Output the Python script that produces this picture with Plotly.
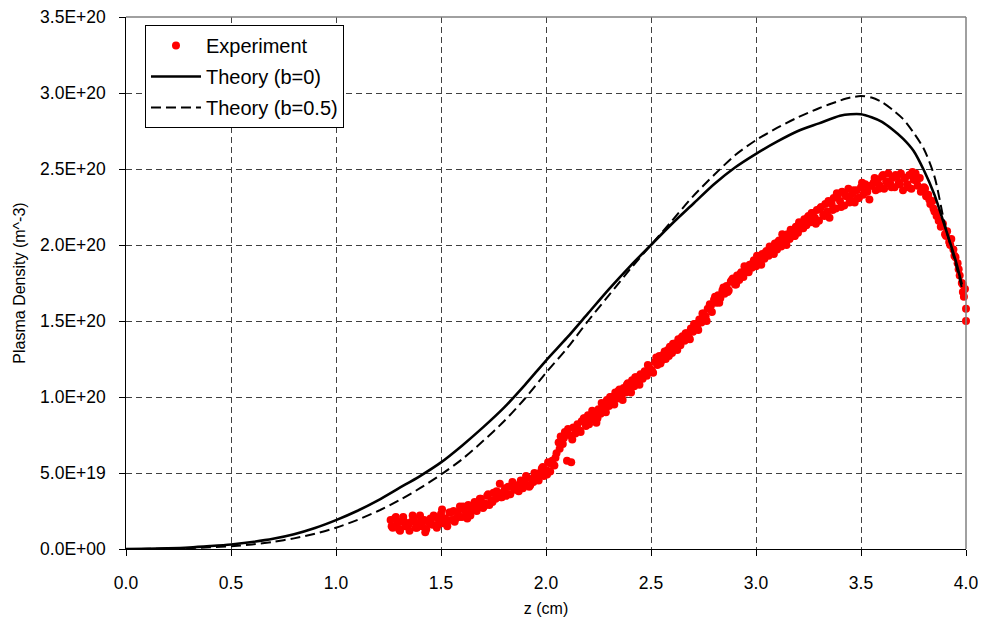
import plotly.graph_objects as go

# ---------------- data (densities in units of 1e20 m^-3) ----------------
theory_z = [0.0, 0.1, 0.2, 0.3, 0.4, 0.5, 0.6, 0.7, 0.8, 0.9, 1.0, 1.1, 1.2, 1.3, 1.4,
            1.5, 1.6, 1.7, 1.8, 1.9, 2.0, 2.1, 2.2, 2.3, 2.4, 2.5, 2.6, 2.7, 2.8, 2.9,
            3.0, 3.1, 3.2, 3.3, 3.4, 3.45, 3.5, 3.55, 3.6, 3.65, 3.7, 3.75, 3.8, 3.85,
            3.9, 3.95, 3.98]
theory_b0 = [0.0, 0.002, 0.005, 0.010, 0.019, 0.030, 0.046, 0.067, 0.097, 0.138, 0.19,
             0.25, 0.32, 0.40, 0.48, 0.57, 0.68, 0.80, 0.93, 1.08, 1.24, 1.39, 1.55,
             1.71, 1.86, 2.00, 2.14, 2.27, 2.40, 2.51, 2.60, 2.68, 2.75, 2.80, 2.85,
             2.86, 2.86, 2.84, 2.81, 2.76, 2.70, 2.62, 2.49, 2.33, 2.12, 1.90, 1.74]
theory_b05 = [0.0, 0.001, 0.003, 0.006, 0.011, 0.018, 0.030, 0.047, 0.070, 0.10, 0.14,
              0.19, 0.25, 0.32, 0.40, 0.49, 0.59, 0.71, 0.84, 0.99, 1.16, 1.32, 1.50,
              1.67, 1.84, 2.00, 2.16, 2.32, 2.46, 2.59, 2.69, 2.77, 2.84, 2.90, 2.95,
              2.97, 2.98, 2.97, 2.94, 2.89, 2.83, 2.74, 2.63, 2.45, 2.13, 1.88, 1.72]

exp_z = [
    1.26, 1.27, 1.28, 1.29, 1.30, 1.31, 1.32, 1.33, 1.34, 1.35,
    1.36, 1.37, 1.38, 1.39, 1.40, 1.41, 1.42, 1.43, 1.44, 1.45,
    1.46, 1.47, 1.48, 1.49, 1.50, 1.51, 1.52, 1.53, 1.54, 1.55,
    1.56, 1.57, 1.58, 1.59, 1.60, 1.61, 1.62, 1.63, 1.64, 1.65,
    1.66, 1.67, 1.68, 1.69, 1.70, 1.71, 1.72, 1.73, 1.74, 1.75,
    1.76, 1.77, 1.78, 1.79, 1.80, 1.81, 1.82, 1.83, 1.84, 1.85,
    1.86, 1.87, 1.88, 1.89, 1.90, 1.91, 1.92, 1.93, 1.94, 1.95,
    1.96, 1.97, 1.98, 1.99, 2.00, 2.01, 2.02, 2.03, 2.04, 2.05,
    2.06, 2.07, 2.08, 2.09, 2.10, 2.11, 2.12, 2.13, 2.14, 2.15,
    2.16, 2.17, 2.18, 2.19, 2.20, 2.21, 2.22, 2.23, 2.24, 2.25,
    2.26, 2.27, 2.28, 2.29, 2.30, 2.31, 2.32, 2.33, 2.34, 2.35,
    2.36, 2.37, 2.38, 2.39, 2.40, 2.41, 2.42, 2.43, 2.44, 2.45,
    2.46, 2.47, 2.48, 2.49, 2.50, 2.51, 2.52, 2.53, 2.54, 2.55,
    2.56, 2.57, 2.58, 2.59, 2.60, 2.61, 2.62, 2.63, 2.64, 2.65,
    2.66, 2.67, 2.68, 2.69, 2.70, 2.71, 2.72, 2.73, 2.74, 2.75,
    2.76, 2.77, 2.78, 2.79, 2.80, 2.81, 2.82, 2.83, 2.84, 2.85,
    2.86, 2.87, 2.88, 2.89, 2.90, 2.91, 2.92, 2.93, 2.94, 2.95,
    2.96, 2.97, 2.98, 2.99, 3.00, 3.01, 3.02, 3.03, 3.04, 3.05,
    3.06, 3.07, 3.08, 3.09, 3.10, 3.11, 3.12, 3.13, 3.14, 3.15,
    3.16, 3.17, 3.18, 3.19, 3.20, 3.21, 3.22, 3.23, 3.24, 3.25,
    3.26, 3.27, 3.28, 3.29, 3.30, 3.31, 3.32, 3.33, 3.34, 3.35,
    3.36, 3.37, 3.38, 3.39, 3.40, 3.41, 3.42, 3.43, 3.44, 3.45,
    3.46, 3.47, 3.48, 3.49, 3.50, 3.51, 3.52, 3.53, 3.54, 3.55,
    3.56, 3.57, 3.58, 3.59, 3.60, 3.61, 3.62, 3.63, 3.64, 3.65,
    3.66, 3.67, 3.68, 3.69, 3.70, 3.71, 3.72, 3.73, 3.74, 3.75,
    3.76, 3.77, 3.78, 3.79, 3.80, 3.81, 3.82, 3.83, 3.84, 3.85,
    3.86, 3.87, 3.88, 3.89, 3.90, 3.91, 3.92, 3.93, 3.94, 3.95,
    3.96, 3.97, 3.98, 3.99, 4.00, 3.985, 3.995, 4.00,
]
exp_n = [
    0.19, 0.14, 0.20, 0.16, 0.13, 0.18, 0.21, 0.15, 0.17, 0.12,
    0.18, 0.20, 0.14, 0.17, 0.22, 0.15, 0.19, 0.13, 0.18, 0.20,
    0.16, 0.21, 0.14, 0.19, 0.23, 0.17, 0.20, 0.15, 0.24, 0.19,
    0.25, 0.20, 0.24, 0.28, 0.21, 0.26, 0.23, 0.29, 0.22, 0.27,
    0.31, 0.25, 0.29, 0.33, 0.27, 0.30, 0.35, 0.29, 0.32, 0.37,
    0.33, 0.37, 0.43, 0.34, 0.38, 0.35, 0.41, 0.36, 0.44, 0.39,
    0.42, 0.38, 0.45, 0.40, 0.43, 0.47, 0.41, 0.46, 0.44, 0.49,
    0.46, 0.50, 0.53, 0.48, 0.52, 0.57, 0.51, 0.58, 0.55, 0.63,
    0.70, 0.74, 0.69, 0.77, 0.58, 0.75, 0.57, 0.80, 0.76, 0.82,
    0.78, 0.84, 0.86, 0.81, 0.88, 0.85, 0.91, 0.87, 0.83, 0.92,
    0.89, 0.95, 0.93, 0.98, 0.94, 1.00, 0.97, 1.03, 0.99, 1.05,
    1.01, 1.06, 1.03, 1.09, 1.05, 1.11, 1.07, 1.13, 1.10, 1.15,
    1.12, 1.17, 1.14, 1.20, 1.18, 1.16, 1.23, 1.21, 1.27, 1.24,
    1.28, 1.25, 1.31, 1.33, 1.29, 1.35, 1.32, 1.38, 1.34, 1.40,
    1.37, 1.42, 1.39, 1.45, 1.43, 1.48, 1.46, 1.51, 1.49, 1.55,
    1.53, 1.58, 1.61, 1.56, 1.64, 1.62, 1.67, 1.65, 1.70, 1.68,
    1.73, 1.70, 1.76, 1.78, 1.74, 1.80, 1.77, 1.82, 1.79, 1.85,
    1.83, 1.87, 1.85, 1.90, 1.86, 1.92, 1.89, 1.94, 1.91, 1.96,
    1.93, 1.98, 1.95, 2.01, 1.97, 2.03, 1.99, 2.05, 2.01, 2.07,
    2.04, 2.09, 2.06, 2.12, 2.08, 2.14, 2.11, 2.17, 2.13, 2.19,
    2.15, 2.21, 2.18, 2.23, 2.16, 2.25, 2.20, 2.27, 2.22, 2.18,
    2.27, 2.31, 2.24, 2.33, 2.29, 2.35, 2.26, 2.32, 2.37, 2.30,
    2.34, 2.28, 2.36, 2.31, 2.38, 2.33, 2.40, 2.35, 2.30, 2.39,
    2.41, 2.36, 2.43, 2.39, 2.45, 2.37, 2.42, 2.47, 2.40, 2.44,
    2.38, 2.45, 2.41, 2.47, 2.36, 2.44, 2.40, 2.46, 2.37, 2.43,
    2.47, 2.39, 2.44, 2.36, 2.38, 2.32, 2.33, 2.27, 2.29, 2.22,
    2.19, 2.16, 2.12, 2.14, 2.07, 2.09, 2.02, 2.04, 1.97, 1.92,
    1.88, 1.80, 1.75, 1.66, 1.58, 1.69, 1.71, 1.50,
]
# second, interleaved set of experimental samples
exp2_z = [
    1.265, 1.285, 1.305, 1.325, 1.345, 1.365, 1.385, 1.405, 1.425, 1.445,
    1.465, 1.485, 1.505, 1.525, 1.545, 1.565, 1.585, 1.605, 1.625, 1.645,
    1.665, 1.685, 1.705, 1.725, 1.745, 1.765, 1.785, 1.805, 1.825, 1.845,
    1.865, 1.885, 1.905, 1.925, 1.945, 1.965, 1.985, 2.005, 2.025, 2.045,
    2.065, 2.085, 2.105, 2.125, 2.145, 2.165, 2.185, 2.205, 2.225, 2.245,
    2.265, 2.285, 2.305, 2.325, 2.345, 2.365, 2.385, 2.405, 2.425, 2.445,
    2.465, 2.485, 2.505, 2.525, 2.545, 2.565, 2.585, 2.605, 2.625, 2.645,
    2.665, 2.685, 2.705, 2.725, 2.745, 2.765, 2.785, 2.805, 2.825, 2.845,
    2.865, 2.885, 2.905, 2.925, 2.945, 2.965, 2.985, 3.005, 3.025, 3.045,
    3.065, 3.085, 3.105, 3.125, 3.145, 3.165, 3.185, 3.205, 3.225, 3.245,
    3.265, 3.285, 3.305, 3.325, 3.345, 3.365, 3.385, 3.405, 3.425, 3.445,
    3.465, 3.485, 3.505, 3.525, 3.545, 3.565, 3.585, 3.605, 3.625, 3.645,
    3.665, 3.685, 3.705, 3.725, 3.745, 3.765, 3.785, 3.805, 3.825, 3.845,
    3.865, 3.885, 3.905, 3.925, 3.945, 3.965, 3.985,
]
exp2_n = [
    0.15, 0.21, 0.12, 0.18, 0.16, 0.22, 0.14, 0.19, 0.11, 0.17,
    0.22, 0.16, 0.26, 0.19, 0.24, 0.18, 0.21, 0.28, 0.20, 0.25,
    0.26, 0.33, 0.28, 0.36, 0.31, 0.38, 0.34, 0.40, 0.36, 0.42,
    0.39, 0.44, 0.48, 0.42, 0.50, 0.45, 0.54, 0.49, 0.56, 0.60,
    0.66, 0.73, 0.79, 0.72, 0.80, 0.77, 0.86, 0.82, 0.90, 0.86,
    0.96, 0.90, 1.00, 0.95, 1.04, 0.98, 1.08, 1.03, 1.13, 1.08,
    1.15, 1.21, 1.17, 1.26, 1.22, 1.30, 1.27, 1.35, 1.31, 1.39,
    1.42, 1.38, 1.48, 1.44, 1.55, 1.50, 1.60, 1.66, 1.62, 1.72,
    1.69, 1.77, 1.74, 1.81, 1.86, 1.82, 1.88, 1.93, 1.87, 1.95,
    1.99, 1.94, 2.02, 2.07, 2.00, 2.10, 2.06, 2.15, 2.11, 2.18,
    2.21, 2.14, 2.24, 2.19, 2.29, 2.23, 2.34, 2.25, 2.33, 2.28,
    2.36, 2.31, 2.41, 2.35, 2.39, 2.44, 2.37, 2.46, 2.41, 2.38,
    2.46, 2.40, 2.44, 2.38, 2.48, 2.42, 2.35, 2.37, 2.30, 2.24,
    2.21, 2.13, 2.06, 2.00, 1.93, 1.84, 1.74,
]

x_tick_vals = [0.0, 0.5, 1.0, 1.5, 2.0, 2.5, 3.0, 3.5, 4.0]
y_tick_vals = [0.0, 0.5, 1.0, 1.5, 2.0, 2.5, 3.0, 3.5]   # x 1e20
y_tick_text = ["0.0E+00", "5.0E+19", "1.0E+20", "1.5E+20",
               "2.0E+20", "2.5E+20", "3.0E+20", "3.5E+20"]

SCALE = 1e20
FONT = "Liberation Sans, Arial, sans-serif"
NBSP = "\u00a0"

all_z = exp_z + exp2_z
all_n = exp_n + exp2_n

fig = go.Figure()
fig.add_trace(go.Scatter(
    x=all_z, y=[v * SCALE for v in all_n], mode="markers", name="Experiment",
    marker=dict(color="#FF0000", size=8, line=dict(width=0)),
    cliponaxis=False, legendgroup="a"))
fig.add_trace(go.Scatter(
    x=theory_z, y=[v * SCALE for v in theory_b0], mode="lines", name="Theory (b=0)",
    line=dict(color="black", width=2.6, shape="spline", smoothing=0.8), legendgroup="b"))
fig.add_trace(go.Scatter(
    x=theory_z, y=[v * SCALE for v in theory_b05], mode="lines", name="Theory (b=0.5)",
    line=dict(color="black", width=2.0, dash="10px,5px", shape="spline", smoothing=0.8),
    legendgroup="c"))

grid_col = "#404040"
fig.update_xaxes(
    range=[0, 4], tickvals=x_tick_vals, tickformat=".1f",
    showline=True, linecolor="black", linewidth=1,
    ticks="outside", ticklen=6, tickcolor="black", ticklabelstandoff=12,
    ticklabeloverflow="allow",
    showgrid=True, gridcolor=grid_col, griddash="6px,4px", gridwidth=1,
    zeroline=False, automargin=False,
    tickfont=dict(family=FONT, size=17.5, color="black"),
    title=dict(text="z (cm)", font=dict(family=FONT, size=16, color="black"), standoff=10),
)
fig.update_yaxes(
    range=[0, 3.5 * SCALE], tickvals=[v * SCALE for v in y_tick_vals],
    ticktext=[t + NBSP + NBSP for t in y_tick_text],
    showline=True, linecolor="black", linewidth=1,
    ticks="outside", ticklen=6, tickcolor="black",
    ticklabeloverflow="allow",
    showgrid=True, gridcolor=grid_col, griddash="6px,4px", gridwidth=1,
    zeroline=False, automargin=False,
    tickfont=dict(family=FONT, size=17.5, color="black"),
    title=dict(text="Plasma Density (m^-3)", font=dict(family=FONT, size=16, color="black"), standoff=10),
)

# gray frame on top and right (Excel-style plot area border)
fig.add_shape(type="line", xref="paper", yref="paper", x0=0, x1=1, y0=1, y1=1,
              line=dict(color="#808080", width=1.5))
fig.add_shape(type="line", xref="paper", yref="paper", x0=1, x1=1, y0=0, y1=1,
              line=dict(color="#808080", width=1.5))

fig.update_layout(
    width=978, height=616,
    margin=dict(l=118, r=20, t=9, b=75),
    paper_bgcolor="white", plot_bgcolor="white",
    font=dict(family=FONT, color="black"),
    legend=dict(
        x=0.0226, y=0.985, xanchor="left", yanchor="top",
        bgcolor="white", bordercolor="black", borderwidth=1,
        font=dict(family=FONT, size=20, color="black"),
        traceorder="grouped", tracegroupgap=2, itemwidth=50,
    ),
)

fig.write_html("out.html")
